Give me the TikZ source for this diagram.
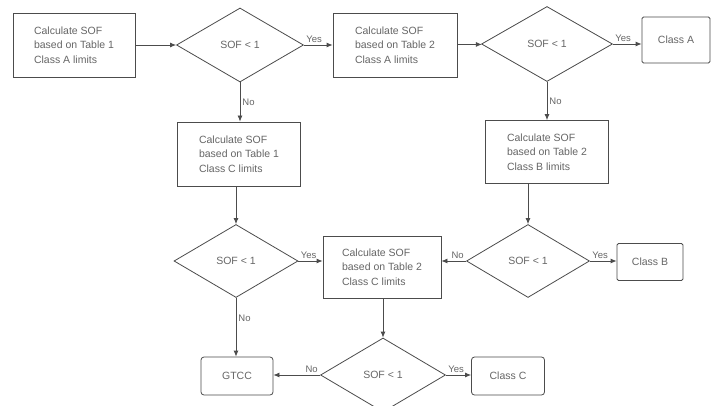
\documentclass[tikz,border=0pt]{standalone}
\usepackage{fontspec}
\setmainfont{Liberation Sans}
\usetikzlibrary{shapes.geometric,arrows.meta,positioning}
\definecolor{linegray}{gray}{0.3}
\definecolor{textgray}{gray}{0.4}
\tikzstyle{chart}=[
  x=1pt,y=-1pt,>={Latex[length=6pt,width=5pt]},line width=0.8pt,
  font=\fontsize{10.5}{14.5}\selectfont
]
\tikzstyle{calcbox}=[
  draw=linegray,rectangle,align=left,inner sep=0pt,text=textgray
]
\tikzstyle{resultbox}=[
  draw=linegray,rectangle,rounded corners=3pt,inner sep=0pt,text=textgray
]
\tikzstyle{decision}=[
  draw=linegray,diamond,inner sep=0pt,text=textgray
]
\tikzstyle{flow}=[
  ->,draw=linegray
]
\tikzstyle{edgelabel}=[
  font=\fontsize{9.5}{11}\selectfont,text=textgray,inner sep=2pt
]

\begin{document}
\begin{tikzpicture}[chart]
  \clip (0,0) rectangle (711,406);
  \fill[white] (0,0) rectangle (711,406);
  % first row
  \node (b1) at (74,45) [calcbox,minimum width=122pt,minimum height=64pt]
    {Calculate SOF\\based on Table 1\\Class A limits};
  \node (d1) at (240,45) [decision,minimum width=127pt,minimum height=74pt] {SOF < 1};
  \node (b2) at (395,45) [calcbox,minimum width=124pt,minimum height=64pt]
    {Calculate SOF\\based on Table 2\\Class A limits};
  \node (d2) at (547,44) [decision,minimum width=131pt,minimum height=75pt] {SOF < 1};
  \node (ca) at (676,40) [resultbox,rounded corners=1.5pt,minimum width=68pt,minimum height=46pt] {Class A};
  % second row
  \node (b3) at (239,154) [calcbox,minimum width=123pt,minimum height=64pt]
    {Calculate SOF\\based on Table 1\\Class C limits};
  \node (b4) at (547,152) [calcbox,minimum width=123pt,minimum height=63pt]
    {Calculate SOF\\based on Table 2\\Class B limits};
  % third row
  \node (d3) at (236,261) [decision,minimum width=124pt,minimum height=73pt] {SOF < 1};
  \node (b5) at (382,267) [calcbox,minimum width=118pt,minimum height=62pt]
    {Calculate SOF\\based on Table 2\\Class C limits};
  \node (d4) at (528,261) [decision,minimum width=123pt,minimum height=73pt] {SOF < 1};
  \node (cb) at (650,262) [resultbox,rounded corners=1.5pt,minimum width=66pt,minimum height=37pt] {Class B};
  % last row
  \node (gt) at (237,376) [resultbox,minimum width=72pt,minimum height=38pt] {GTCC};
  \node (d5) at (383,375) [decision,minimum width=125pt,minimum height=74pt] {SOF < 1};
  \node (cc) at (508,376) [resultbox,minimum width=73pt,minimum height=38pt] {Class C};

  \draw [flow] (b1) -- (d1);
  \draw [flow] (d1) -- node[edgelabel,at start,anchor=south west] {Yes} (b2);
  \draw [flow] (b2) -- (d2);
  \draw [flow] (d2.east) -- node[edgelabel,at start,anchor=south west] {Yes} (d2.east -| ca.west);
  \draw [flow] (d1.south) -- node[edgelabel,midway,right] {No} (d1.south |- b3.north);
  \draw [flow] (d2.south) -- node[edgelabel,midway,right] {No} (d2.south |- b4.north);
  \draw [flow] (d3.north |- b3.south) -- (d3.north);
  \draw [flow] (d4.north |- b4.south) -- (d4.north);
  \draw [flow] (d3.east) -- node[edgelabel,at start,anchor=south west] {Yes} (d3.east -| b5.west);
  \draw [flow] (d4.west) -- node[edgelabel,at start,anchor=south east] {No} (d4.west -| b5.east);
  \draw [flow] (d4.east) -- node[edgelabel,at start,anchor=south west] {Yes} (d4.east -| cb.west);
  \draw [flow] (d3.south) -- node[edgelabel,pos=0.35,right] {No} (d3.south |- gt.north);
  \draw [flow] (d5.north |- b5.south) -- (d5.north);
  \draw [flow] (d5.west) -- node[edgelabel,at start,anchor=south east] {No} (d5.west -| gt.east);
  \draw [flow] (d5.east) -- node[edgelabel,at start,anchor=south west] {Yes} (d5.east -| cc.west);
\end{tikzpicture}
\end{document}
